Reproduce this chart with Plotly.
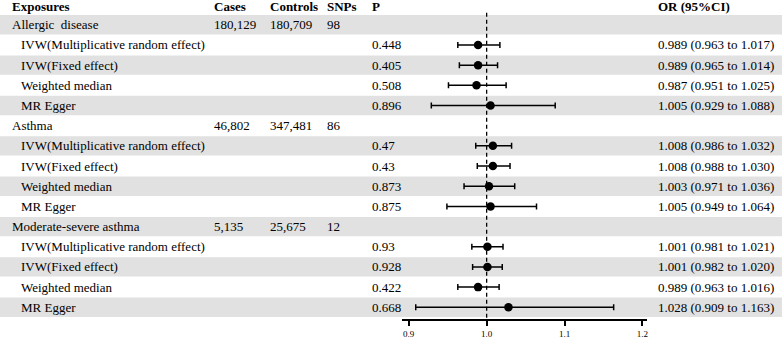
import plotly.graph_objects as go

W, H = 783, 339

# ---- data ----
exposures = ["Allergic  disease", "Asthma", "Moderate-severe asthma"]
cases = ["180,129", "46,802", "5,135"]
controls = ["180,709", "347,481", "25,675"]
snps = ["98", "86", "12"]
methods = ["IVW(Multiplicative random effect)", "IVW(Fixed effect)", "Weighted median", "MR Egger"]
p_values = [["0.448", "0.405", "0.508", "0.896"],
            ["0.47", "0.43", "0.873", "0.875"],
            ["0.93", "0.928", "0.422", "0.668"]]
or_est = [[0.989, 0.989, 0.987, 1.005],
          [1.008, 1.008, 1.003, 1.005],
          [1.001, 1.001, 0.989, 1.028]]
ci_low = [[0.963, 0.965, 0.951, 0.929],
          [0.986, 0.988, 0.971, 0.949],
          [0.981, 0.982, 0.963, 0.909]]
ci_high = [[1.017, 1.014, 1.025, 1.088],
           [1.032, 1.030, 1.036, 1.064],
           [1.021, 1.020, 1.016, 1.163]]
headers = ["Exposures", "Cases", "Controls", "SNPs", "P", "OR (95%CI)"]
tick_vals = [0.9, 1.0, 1.1, 1.2]
tick_text = ["0.9", "1.0", "1.1", "1.2"]

# ---- layout geometry ----
FONT = "Liberation Serif"
FS = 13
row0 = 25.0
pitch = 20.36
axis_px = 322.0
y_top = -row0 / pitch
y_bot = (axis_px - row0) / pitch

col_x = {"exp": 10, "sub": 19, "cases": 212, "controls": 268, "snps": 325, "p": 370, "or": 657}

def px(x):
    return x / W

fig = go.Figure()
annotations = []
shapes = []

def add_text(x, y, text, bold=False):
    annotations.append(dict(
        x=px(x), y=y, xref="paper", yref="y", text=("<b>%s</b>" % text) if bold else text,
        showarrow=False, xanchor="left", yanchor="middle",
        font=dict(family=FONT, size=FS, color="black")))

def add_band(r):
    shapes.append(dict(type="rect", xref="paper", yref="y", x0=0, x1=1,
                       y0=r - 0.48, y1=r + 0.48, fillcolor="#e1e1e1",
                       line=dict(width=0), layer="below"))

# header
hx = [col_x["exp"], col_x["cases"], col_x["controls"], col_x["snps"], col_x["p"], col_x["or"]]
for h, x in zip(headers, hx):
    add_text(x, -0.93, h, bold=True)

xs, ys, em, ep = [], [], [], []
row = 0
for g in range(len(exposures)):
    if row % 2 == 0:
        add_band(row)
    add_text(col_x["exp"], row, exposures[g])
    add_text(col_x["cases"], row, cases[g])
    add_text(col_x["controls"], row, controls[g])
    add_text(col_x["snps"], row, snps[g])
    row += 1
    for m in range(len(methods)):
        if row % 2 == 0:
            add_band(row)
        add_text(col_x["sub"], row, methods[m])
        add_text(col_x["p"], row, p_values[g][m])
        o, lo, hi = or_est[g][m], ci_low[g][m], ci_high[g][m]
        add_text(col_x["or"], row, "%.3f (%.3f to %.3f)" % (o, lo, hi))
        xs.append(o)
        ys.append(row)
        em.append(o - lo)
        ep.append(hi - o)
        row += 1

# reference line at 1
shapes.append(dict(type="line", xref="x", yref="y", x0=1, x1=1, y0=-0.6, y1=y_bot,
                   line=dict(color="black", width=1.3, dash="4px,3px"), layer="below"))

fig.add_trace(go.Scatter(
    x=xs, y=ys, mode="markers",
    marker=dict(color="black", size=8.5, symbol="circle"),
    error_x=dict(type="data", symmetric=False, array=ep, arrayminus=em,
                 color="black", thickness=1.5, width=3),
    hoverinfo="skip", showlegend=False))

fig.update_layout(
    width=W, height=H,
    margin=dict(l=0, r=0, t=0, b=0, pad=0),
    paper_bgcolor="white", plot_bgcolor="rgba(0,0,0,0)",
    showlegend=False,
    shapes=shapes, annotations=annotations,
    xaxis=dict(domain=[403 / W, 648 / W], range=[0.892, 1.206],
               showline=True, linecolor="black", linewidth=1.5,
               ticks="outside", ticklen=5, tickwidth=1.5, tickcolor="black",
               tickvals=tick_vals, ticktext=tick_text,
               tickfont=dict(family=FONT, size=9, color="black"),
               showgrid=False, zeroline=False, fixedrange=True),
    yaxis=dict(domain=[(H - axis_px) / H, 1.0], range=[y_bot, y_top],
               visible=False, showgrid=False, zeroline=False, fixedrange=True),
)

fig.write_html("out.html", config={"displayModeBar": False},
               post_script="document.body.style.margin='0';document.body.style.overflow='hidden';")
